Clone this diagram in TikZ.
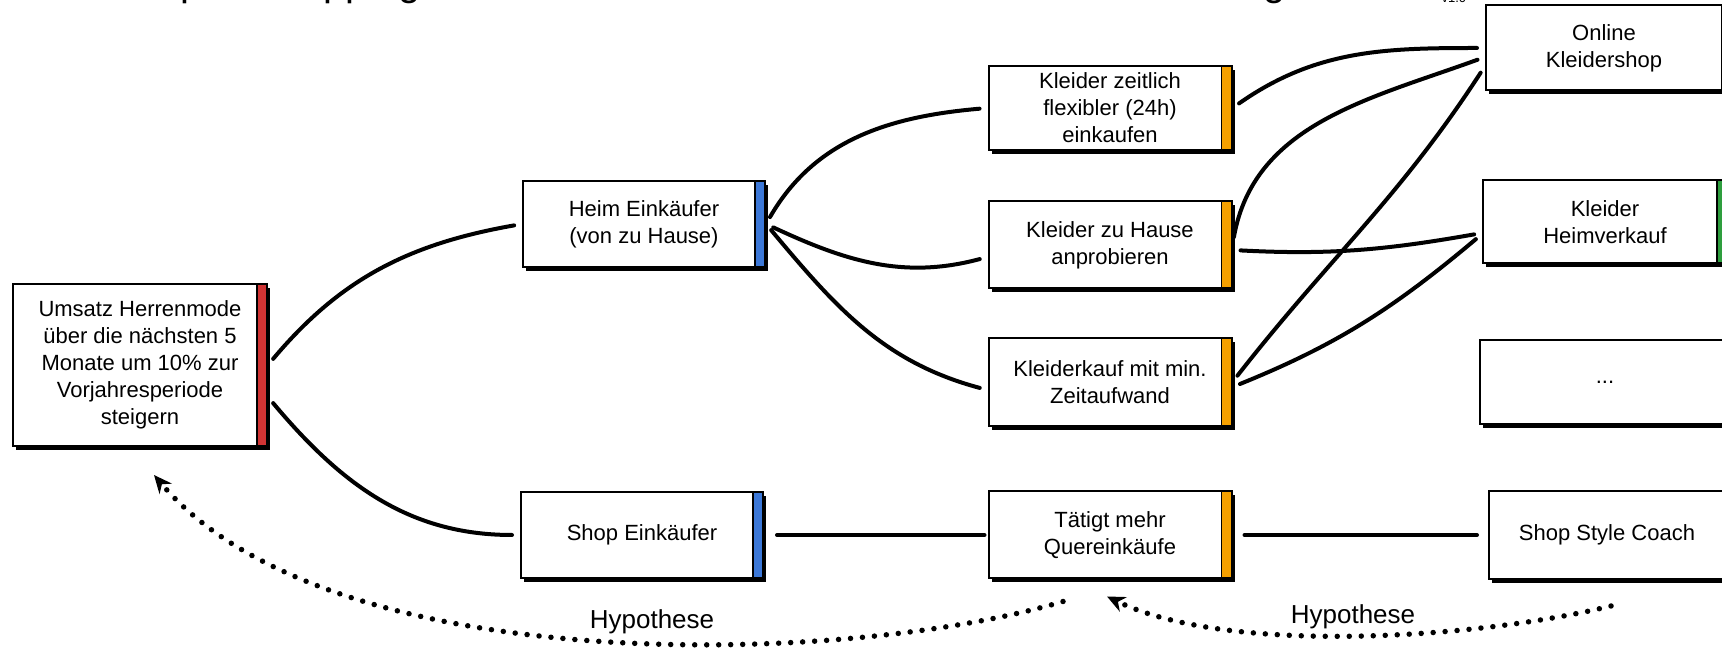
\documentclass[tikz,border=0pt]{standalone}
\usepackage{fontspec}
\setmainfont{Liberation Sans}
\usetikzlibrary{arrows.meta, shadows}

\definecolor{goalred}{HTML}{D03434}
\definecolor{actorblue}{HTML}{3C78D8}
\definecolor{impactorange}{HTML}{F5A000}
\definecolor{deliverygreen}{HTML}{2E9E3E}

\tikzset{
  card/.style={draw, line width=2pt, fill=white, minimum width=243pt, minimum height=86pt,
    inner ysep=1pt, align=center, font=\fontsize{22}{27}\selectfont,
    drop shadow={shadow xshift=3pt, shadow yshift=-4pt, fill=black, opacity=1}},
  bar/.style={path picture={
    \fill[#1] ([xshift=-10pt]path picture bounding box.north east) rectangle (path picture bounding box.south east);
    \draw[line width=1.2pt] ([xshift=-10pt]path picture bounding box.north east) -- ([xshift=-10pt]path picture bounding box.south east);}},
  link/.style={line width=4pt, line cap=round, shorten <=8pt, shorten >=8pt},
  hypo/.style={line width=5.5pt, line cap=round, dash pattern=on 0pt off 12pt, -{Stealth[length=18pt, width=16pt]}},
}

\begin{document}
\begin{tikzpicture}[x=1pt, y=1pt]
\useasboundingbox (0,0) rectangle (1722,653);

\node[anchor=base east, font=\fontsize{40}{48}\selectfont] (title) at (1385,657) {Impact Mapping Cheat Sheet – Vom Geschäftsziel zum Lieferergebnis};
\node[anchor=base west, font=\fontsize{13}{15}\selectfont] (version) at (1438,650) {v1.0};

\node[card, bar=goalred, minimum width=254pt, minimum height=162pt] (goal) at (140,288) {Umsatz Herrenmode\\über die nächsten 5\\Monate um 10\% zur\\Vorjahresperiode\\steigern};

\node[card, bar=actorblue, minimum width=242pt] (heim) at (644,429) {Heim Einkäufer\\(von zu Hause)};
\node[card, bar=actorblue, minimum width=242pt] (shopk) at (642,118) {Shop Einkäufer};

\node[card, bar=impactorange, minimum height=84pt, inner ysep=0pt] (zeit) at (1110,545) {Kleider zeitlich\\flexibler (24h)\\einkaufen};
\node[card, bar=impactorange, minimum height=87pt] (hause) at (1110,408) {Kleider zu Hause\\anprobieren};
\node[card, bar=impactorange, minimum height=88pt] (minzeit) at (1110,271) {Kleiderkauf mit min.\\Zeitaufwand};
\node[card, bar=impactorange, minimum height=87pt] (quer) at (1110,118) {Tätigt mehr\\Quereinkäufe};

\node[card, minimum width=236pt, minimum height=85pt] (online) at (1604,605) {Online\\Kleidershop};
\node[card, bar=deliverygreen, minimum width=244pt, minimum height=83pt] (heimverk) at (1605,431) {Kleider\\Heimverkauf};
\node[card, minimum width=250pt, minimum height=84pt] (more) at (1605,271) {...};
\node[card, minimum width=236pt, minimum height=88pt] (coach) at (1607,118) {Shop Style Coach};

\draw[link] (goal.east) to[out=50, in=190] (heim.west);
\draw[link] ([yshift=-32pt]goal.east) to[out=-50, in=180] (shopk.west);

\draw[link] (heim.east) to[out=60, in=185] (zeit.west);
\draw[link] (heim.east) to[out=-25, in=195] ([yshift=-12pt]hause.west);
\draw[link] (heim.east) to[out=-50, in=165] ([yshift=-8pt]minzeit.west);
\draw[link, shorten <=13pt, shorten >=3pt] (shopk.east) -- (quer.west);

\draw[link] (zeit.east) to[out=35, in=180] (online.west);
\draw[link] (hause.east) to[out=80, in=200] ([yshift=-9pt]online.west);
\draw[link] ([yshift=-5pt]hause.east) to[out=-3, in=190] ([yshift=-11pt]heimverk.west);
\draw[link] (minzeit.east) to[out=52, in=237] ([yshift=-18pt]online.west);
\draw[link] ([yshift=-5pt]minzeit.east) to[out=22, in=220] ([yshift=-12pt]heimverk.west);
\draw[link, shorten <=12pt, shorten >=11pt] (quer.east) -- (coach.west);

\draw[hypo] ([xshift=-47pt, yshift=-22pt]quer.south) .. controls (850,-12) and (330,-30) .. ([xshift=14pt, yshift=-28pt]goal.south);
\draw[hypo] ([xshift=4pt, yshift=-26pt]coach.south) .. controls (1480,15) and (1230,-3) .. ([xshift=-3pt, yshift=-17pt]quer.south);

\node[font=\fontsize{26}{30}\selectfont] (hypl) at (652,31) {Hypothese};
\node[font=\fontsize{26}{30}\selectfont] (hypr) at (1353,36) {Hypothese};
\end{tikzpicture}
\end{document}
